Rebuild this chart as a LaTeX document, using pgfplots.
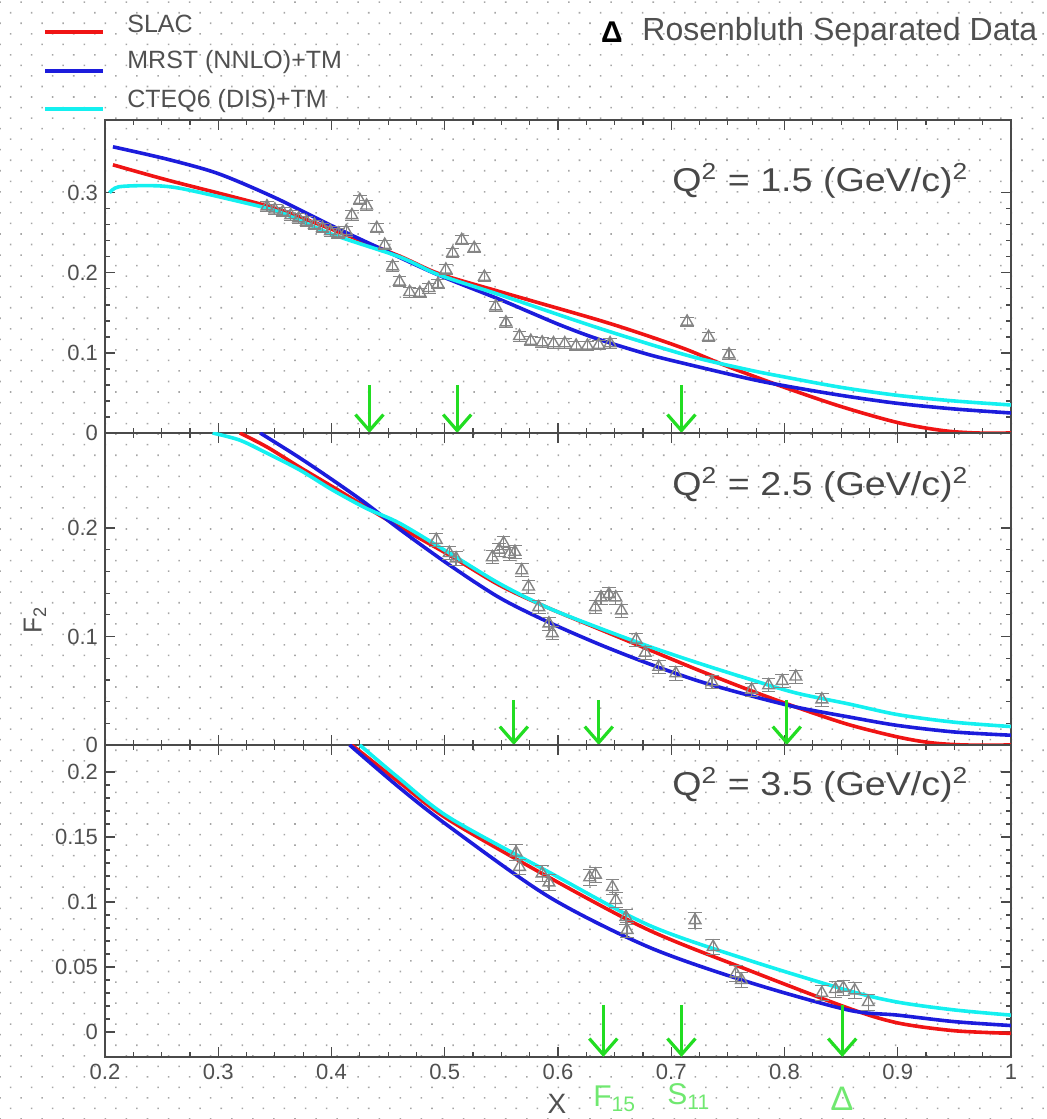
\documentclass[border=0pt]{standalone}
\usepackage{fontspec}
\setmainfont{Liberation Sans}
\usepackage{graphicx}
\usepackage{pgfplots}
\pgfplotsset{compat=1.18}
\usetikzlibrary{patterns.meta,arrows.meta}
\definecolor{axgray}{HTML}{4A4A4A}
\definecolor{txtgray}{HTML}{505050}
\definecolor{datgray}{HTML}{858585}
\definecolor{arrgreen}{HTML}{22DD22}
\definecolor{lblgreen}{HTML}{70E870}
\definecolor{cred}{HTML}{F01414}
\definecolor{cblue}{HTML}{1C1CDC}
\definecolor{ccyan}{HTML}{14F0F0}
\tikzset{garrow/.style={arrgreen, line width=1.6pt, -{Straight Barb[length=8pt,width=14pt,line width=1.6pt]}}}
\pgfplotsset{
 panel/.style={
  scale only axis, width=453pt, xmin=0.2, xmax=1.0,
  anchor=south west,
  axis line style={axgray, line width=0.9pt},
  tick style={axgray, line width=0.6pt},
  tick align=inside, major tick length=5pt, minor tick length=2.5pt,
  xtick={0.2,0.3,0.4,0.5,0.6,0.7,0.8,0.9,1}, minor x tick num=3,
  minor y tick num=4,
  scaled ticks=false,
  tick label style={font=\fontsize{11}{12}\selectfont, text=txtgray, /pgf/number format/fixed, /pgf/number format/precision=2},
  /pgf/number format/assume math mode=true,
  clip mode=individual,
 },
 curve/.style={line width=1.8pt, smooth, tension=0.5, no marks},
 dat/.style={only marks, mark=triangle, mark size=3.4pt, datgray, mark options={line width=0.7pt},
   error bars/.cd, y dir=both, y fixed=0.006, error bar style={line width=0.6pt, datgray}},
}
\newcommand{\qlabel}[1]{\scalebox{1.14}[1]{Q\textsuperscript{2} = #1 (GeV/c)\textsuperscript{2}}}
\begin{document}
\begin{tikzpicture}
\useasboundingbox (0pt,0pt) rectangle (523pt,559.5pt);
\fill[pattern={Dots[distance=7.45pt, angle=45, radius=0.55pt]}, pattern color=gray!70] (0pt,0pt) rectangle (523pt,559.5pt);

% ---------- Panel 1 ----------
\begin{axis}[panel, at={(52.5pt,343pt)}, height=156.5pt, ymin=0, ymax=0.391,
  ytick={0,0.1,0.2,0.3}, xticklabels={}]
\addplot[curve, cred] coordinates {(0.207,0.335)(0.255,0.316)(0.313,0.295)(0.354,0.279)(0.401,0.254)(0.46,0.221)(0.495,0.199)(0.55,0.176)(0.636,0.141)(0.68,0.121)(0.714,0.104)(0.75,0.083)(0.8,0.057)(0.85,0.033)(0.9,0.013)(0.94,0.003)(0.97,0)(1.0,0)};
\addplot[curve, cblue] coordinates {(0.207,0.3575)(0.255,0.342)(0.3,0.324)(0.35,0.294)(0.4,0.259)(0.45,0.226)(0.495,0.197)(0.55,0.166)(0.6,0.136)(0.636,0.117)(0.68,0.098)(0.714,0.086)(0.768,0.068)(0.8,0.059)(0.85,0.047)(0.9,0.037)(0.95,0.03)(1.0,0.025)};
\addplot[curve, ccyan] coordinates {(0.204,0.30)(0.212,0.3075)(0.24,0.309)(0.265,0.306)(0.313,0.291)(0.354,0.276)(0.401,0.248)(0.46,0.22)(0.495,0.1975)(0.55,0.172)(0.636,0.131)(0.714,0.097)(0.768,0.079)(0.8,0.07)(0.85,0.057)(0.9,0.047)(0.95,0.04)(1.0,0.035)};
\addplot[dat] coordinates {(0.343,0.283)(0.350,0.279)(0.357,0.276)(0.364,0.272)(0.371,0.268)(0.378,0.264)(0.385,0.260)(0.392,0.256)(0.399,0.252)(0.406,0.249)(0.413,0.252)(0.418,0.272)(0.425,0.291)(0.431,0.284)(0.440,0.256)(0.447,0.235)(0.454,0.208)(0.460,0.189)(0.469,0.176)(0.478,0.175)(0.486,0.181)(0.494,0.186)(0.501,0.204)(0.507,0.225)(0.515,0.241)(0.526,0.231)(0.535,0.195)(0.545,0.158)(0.554,0.138)(0.566,0.121)(0.576,0.115)(0.586,0.113)(0.596,0.112)(0.606,0.112)(0.616,0.109)(0.626,0.109)(0.636,0.110)(0.646,0.112)(0.714,0.139)(0.733,0.120)(0.751,0.098)};
\draw[garrow] (axis cs:0.4335,0.06) -- (axis cs:0.4335,0);
\draw[garrow] (axis cs:0.511,0.06) -- (axis cs:0.511,0);
\draw[garrow] (axis cs:0.709,0.06) -- (axis cs:0.709,0);
\end{axis}

% ---------- Panel 2 ----------
\begin{axis}[panel, at={(52.5pt,187pt)}, height=156pt, ymin=0, ymax=0.2876,
  ytick={0,0.1,0.2}, xticklabels={}]
\addplot[curve, cred] coordinates {(0.319,0.2876)(0.343,0.2747)(0.372,0.256)(0.401,0.238)(0.431,0.219)(0.46,0.201)(0.504,0.175)(0.548,0.1475)(0.59,0.127)(0.636,0.107)(0.68,0.088)(0.724,0.069)(0.768,0.051)(0.81,0.035)(0.856,0.019)(0.9,0.0074)(0.93,0.002)(0.96,0)(1.0,0)};
\addplot[curve, cblue] coordinates {(0.337,0.2876)(0.37,0.266)(0.40,0.245)(0.43,0.223)(0.46,0.199)(0.504,0.166)(0.548,0.136)(0.59,0.114)(0.636,0.093)(0.68,0.075)(0.724,0.059)(0.768,0.046)(0.81,0.035)(0.856,0.026)(0.9,0.018)(0.95,0.012)(1.0,0.009)};
\addplot[curve, ccyan] coordinates {(0.295,0.2876)(0.319,0.281)(0.343,0.269)(0.372,0.2535)(0.401,0.235)(0.431,0.218)(0.46,0.2045)(0.504,0.177)(0.548,0.149)(0.59,0.127)(0.636,0.108)(0.68,0.091)(0.724,0.0755)(0.768,0.061)(0.81,0.048)(0.856,0.038)(0.9,0.028)(0.95,0.021)(1.0,0.017)};
\addplot[dat] coordinates {(0.4925,0.189)(0.504,0.177)(0.510,0.172)(0.542,0.173)(0.548,0.180)(0.552,0.186)(0.557,0.176)(0.562,0.178)(0.568,0.161)(0.574,0.146)(0.583,0.127)(0.592,0.112)(0.595,0.103)(0.633,0.127)(0.638,0.136)(0.645,0.139)(0.651,0.136)(0.656,0.124)(0.669,0.097)(0.677,0.085)(0.689,0.072)(0.704,0.066)(0.736,0.058)(0.771,0.051)(0.786,0.055)(0.798,0.059)(0.810,0.063)(0.833,0.042)};
\draw[garrow] (axis cs:0.561,0.0415) -- (axis cs:0.561,0);
\draw[garrow] (axis cs:0.636,0.0415) -- (axis cs:0.636,0);
\draw[garrow] (axis cs:0.802,0.0415) -- (axis cs:0.802,0);
\end{axis}

% ---------- Panel 3 ----------
\begin{axis}[panel, at={(52.5pt,31pt)}, height=156pt, ymin=-0.0192, ymax=0.2208,
  ytick={0,0.05,0.1,0.15,0.2}]
\addplot[curve, cred] coordinates {(0.418,0.2208)(0.46,0.192)(0.504,0.163)(0.592,0.119)(0.68,0.0785)(0.768,0.0477)(0.856,0.0185)(0.9,0.007)(0.95,0.001)(1.0,-0.001)};
\addplot[curve, cblue] coordinates {(0.416,0.2208)(0.46,0.188)(0.504,0.158)(0.592,0.104)(0.68,0.0654)(0.768,0.0385)(0.856,0.017)(0.9,0.013)(0.95,0.008)(1.0,0.005)};
\addplot[curve, ccyan] coordinates {(0.425,0.2208)(0.46,0.195)(0.504,0.165)(0.592,0.123)(0.68,0.0823)(0.768,0.0554)(0.856,0.032)(0.9,0.023)(0.95,0.017)(1.0,0.013)};
\addplot[dat] coordinates {(0.563,0.138)(0.566,0.127)(0.586,0.122)(0.592,0.115)(0.628,0.119)(0.633,0.121)(0.648,0.1115)(0.651,0.1015)(0.660,0.0885)(0.661,0.0785)(0.721,0.086)(0.737,0.0654)(0.757,0.045)(0.762,0.040)(0.833,0.030)(0.845,0.033)(0.852,0.034)(0.862,0.032)(0.874,0.023)};
\draw[garrow] (axis cs:0.640,0.0208) -- (axis cs:0.640,-0.0192);
\draw[garrow] (axis cs:0.709,0.0208) -- (axis cs:0.709,-0.0192);
\draw[garrow] (axis cs:0.851,0.0208) -- (axis cs:0.851,-0.0192);
\end{axis}

% ---------- Legend and labels ----------
\draw[cred, line width=2.2pt] (22.5pt,543.5pt) -- (51.5pt,543.5pt);
\draw[cblue, line width=2.2pt] (22.5pt,524pt) -- (51.5pt,524pt);
\draw[ccyan, line width=2.2pt] (22.5pt,505pt) -- (51.5pt,505pt);
\begin{scope}[every node/.style={anchor=west, text=txtgray, inner sep=0pt, font=\fontsize{12.5}{14}\selectfont}]
\node at (63.5pt,547.5pt) {SLAC};
\node at (63.5pt,528.5pt) {MRST (NNLO)+TM};
\node at (63.5pt,509pt) {CTEQ6 (DIS)+TM};
\end{scope}
\node[font=\fontsize{15}{16}\selectfont\bfseries, inner sep=0pt] at (306pt,543.5pt) {Δ};
\node[anchor=west, inner sep=0pt, text=txtgray, font=\fontsize{16}{18}\selectfont] at (321pt,543.5pt) {Rosenbluth Separated Data};
\begin{scope}[every node/.style={anchor=west, text=txtgray!90!black, inner sep=0pt, font=\fontsize{16.5}{18}\selectfont}]
\node at (336pt,469pt) {\qlabel{1.5}};
\node at (336pt,317pt) {\qlabel{2.5}};
\node at (336pt,167pt) {\qlabel{3.5}};
\end{scope}
\node[rotate=90, text=txtgray, font=\fontsize{13}{14}\selectfont] at (17.5pt,249.5pt) {F\textsubscript{2}};
\node[anchor=base, inner sep=0pt, text=txtgray, font=\fontsize{14}{15}\selectfont] at (278.5pt,2.5pt) {X};
\begin{scope}[every node/.style={text=lblgreen, inner sep=0pt, font=\fontsize{15}{16}\selectfont}]
\node[anchor=base west] at (296.5pt,6pt) {F\textsubscript{15}};
\node[anchor=base west] at (333.5pt,7pt) {S\textsubscript{11}};
\node[anchor=base, font=\fontsize{17}{18}\selectfont] at (421pt,4.5pt) {Δ};
\end{scope}
\end{tikzpicture}
\end{document}
